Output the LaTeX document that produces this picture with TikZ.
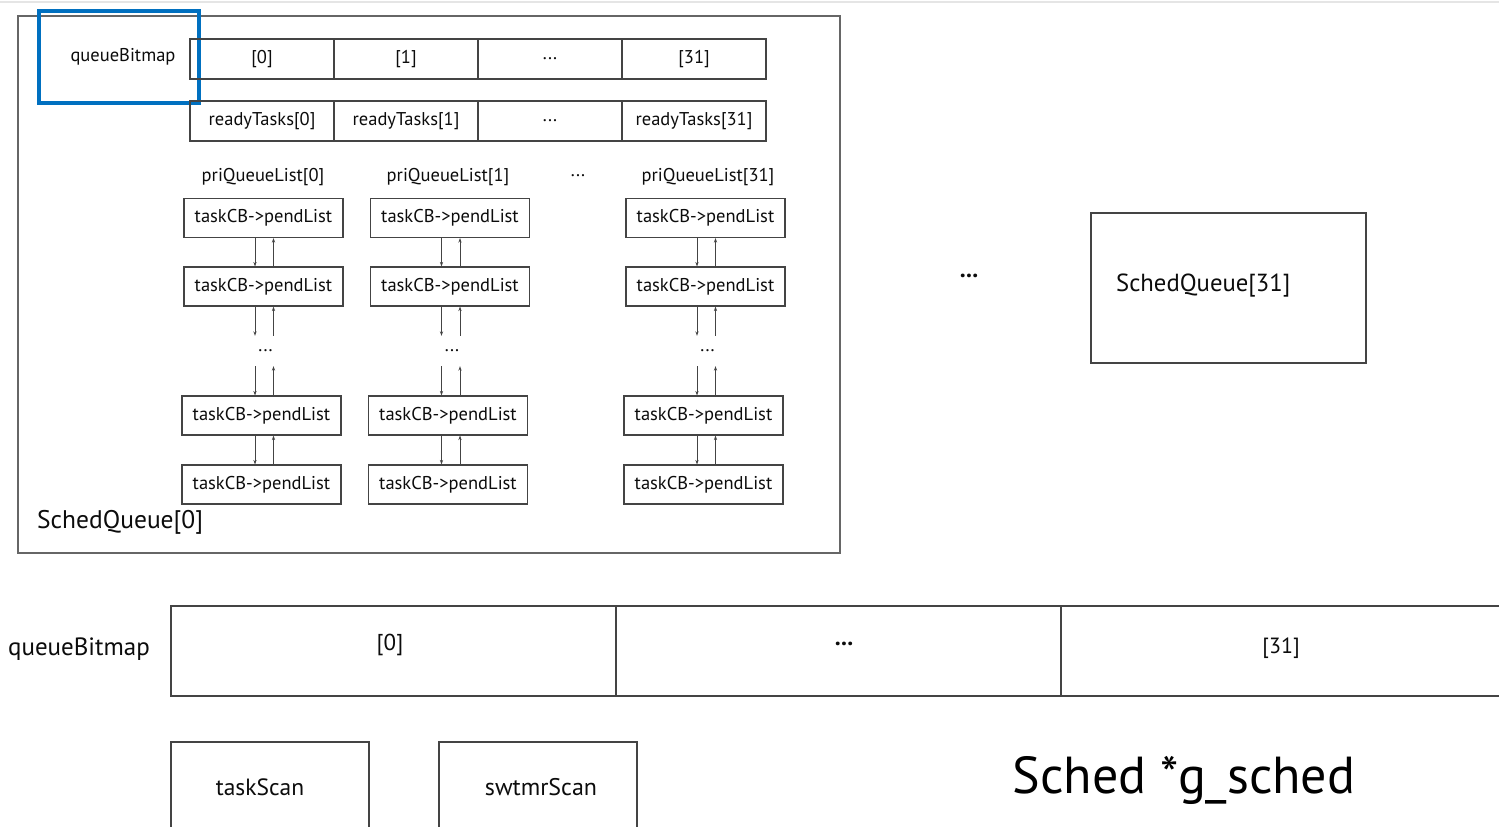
\documentclass[tikz,border=0pt]{standalone}
\usepackage{fontspec}
\setmainfont{PT Sans}
\usetikzlibrary{arrows.meta}
\definecolor{frame}{HTML}{444444}
\definecolor{outer}{HTML}{666666}
\definecolor{hilite}{HTML}{0070C0}
\definecolor{ink}{HTML}{0C0C0C}
\begin{document}
\begin{tikzpicture}[x=1pt,y=-1pt,
  cell/.style={draw=frame,line width=1.1pt,minimum height=40pt,inner sep=0pt,text=ink,font=\fontsize{18.5}{18.5}\selectfont},
  pend/.style={draw=frame,line width=1.1pt,minimum width=159pt,minimum height=39pt,inner sep=0pt,text=ink,font=\fontsize{18.5}{18.5}\selectfont},
  lbl/.style={inner sep=0pt,text=ink,font=\fontsize{18.5}{18.5}\selectfont},
  big/.style={draw=frame,line width=1.1pt,inner sep=0pt,text=ink},
  link/.style={draw=frame,line width=1pt,-{Stealth[length=4.5pt,width=3.2pt]}},
]
\useasboundingbox (0,0) rectangle (1499,827);
\fill[white] (0,0) rectangle (1499,827);
\draw[black!10,line width=2pt] (0,2) -- (1499,2);

% SchedQueue[0] frame
\node[draw=outer,line width=1.2pt,minimum width=822pt,minimum height=537pt,inner sep=0pt] (sq0) at (429,284.5) {};
\node[inner sep=0pt,anchor=west,text=ink,font=\fontsize{25.5}{25.5}\selectfont] (sq0name) at (37,522) {SchedQueue[0]};

% queueBitmap label with highlight
\node[lbl] (qbl) at (123,57) {queueBitmap};
\node[draw=hilite,line width=4pt,minimum width=160pt,minimum height=92pt,inner sep=0pt] (hl) at (118.5,56.5) {};

% bitmap cells
\node[cell,minimum width=144pt] (b0) at (262,59) {[0]};
\node[cell,minimum width=144pt] (b1) at (406,59) {[1]};
\node[cell,minimum width=144pt] (bd) at (550,59) {...};
\node[cell,minimum width=144pt] (b31) at (694,59) {[31]};

% readyTasks cells
\node[cell,minimum width=144pt] (r0) at (262,121) {readyTasks[0]};
\node[cell,minimum width=144pt] (r1) at (406,121) {readyTasks[1]};
\node[cell,minimum width=144pt] (rd) at (550,121) {...};
\node[cell,minimum width=144pt] (r31) at (694,121) {readyTasks[31]};

% priority queue lists
\node[lbl] (pq0) at (263,177) {priQueueList[0]};
\node[lbl] (pq1) at (448,177) {priQueueList[1]};
\node[lbl] (pqd) at (578,176) {...};
\node[lbl] (pq31) at (708,177) {priQueueList[31]};

\foreach \c/\x in {a/263.5,b/450,c/705.5}{
  \node[pend] (\c1) at (\x,218) {taskCB->pendList};
  \node[pend] (\c2) at (\x,286.5) {taskCB->pendList};
  \node[lbl,minimum height=30pt] (\c d) at (\x+2,351) {...};
  \node[pend] (\c3) at (\x-2,415.5) {taskCB->pendList};
  \node[pend] (\c4) at (\x-2,484.5) {taskCB->pendList};
  % doubly linked list: next (down) and prev (up)
  \draw[link] ([xshift=-8.5pt]\c1.south) -- ([xshift=-8.5pt]\c1.south |- \c2.north);
  \draw[link] ([xshift=10pt]\c1.south |- \c2.north) -- ([xshift=10pt]\c1.south);
  \draw[link] ([xshift=-8.5pt]\c2.south) -- ([xshift=-8.5pt]\c2.south |- \c d.north);
  \draw[link] ([xshift=10pt]\c2.south |- \c d.north) -- ([xshift=10pt]\c2.south);
  \draw[link] ([xshift=-6.5pt]\c3.north |- \c d.south) -- ([xshift=-6.5pt]\c3.north);
  \draw[link] ([xshift=12pt]\c3.north) -- ([xshift=12pt]\c3.north |- \c d.south);
  \draw[link] ([xshift=-6.5pt]\c3.south) -- ([xshift=-6.5pt]\c3.south |- \c4.north);
  \draw[link] ([xshift=12pt]\c3.south |- \c4.north) -- ([xshift=12pt]\c3.south);
}

% remaining scheduling queues
\node[inner sep=0pt,text=ink,font=\bfseries\fontsize{24}{24}\selectfont] (sqd) at (969,276) {...};
\node[big,minimum width=275pt,minimum height=150pt] (sq31) at (1228.5,288) {};
\node[inner sep=0pt,anchor=west,text=ink,font=\fontsize{24.7}{24.7}\selectfont] (sq31name) at (1116,286) {SchedQueue[31]};

% global queue bitmap
\node[inner sep=0pt,text=ink,font=\fontsize{25}{25}\selectfont] (gqb) at (79,649) {queueBitmap};
\node[big,minimum width=445pt,minimum height=90pt] (g0) at (393.5,651) {};
\node[big,minimum width=445pt,minimum height=90pt] (gd) at (838.5,651) {};
\node[big,minimum width=445pt,minimum height=90pt] (g31) at (1283.5,651) {};
\node[inner sep=0pt,text=ink,font=\fontsize{23}{23}\selectfont] at (390,645) {[0]};
\node[inner sep=0pt,text=ink,font=\bfseries\fontsize{24}{24}\selectfont] at (844,644) {...};
\node[inner sep=0pt,text=ink,font=\fontsize{22}{22}\selectfont] at (1281,648) {[31]};

% scan hooks
\node[big,minimum width=198pt,minimum height=110pt] (ts) at (270,797) {};
\node[inner sep=0pt,text=ink,font=\fontsize{23.5}{23.5}\selectfont] (tst) at (260,787) {taskScan};
\node[big,minimum width=198pt,minimum height=110pt] (ss) at (538,797) {};
\node[inner sep=0pt,text=ink,font=\fontsize{24}{24}\selectfont] (sst) at (541,787) {swtmrScan};

\node[inner sep=0pt,text=black,font=\fontsize{52}{52}\selectfont] (gs) at (1184,780) {Sched *g\_sched};
\end{tikzpicture}
\end{document}
